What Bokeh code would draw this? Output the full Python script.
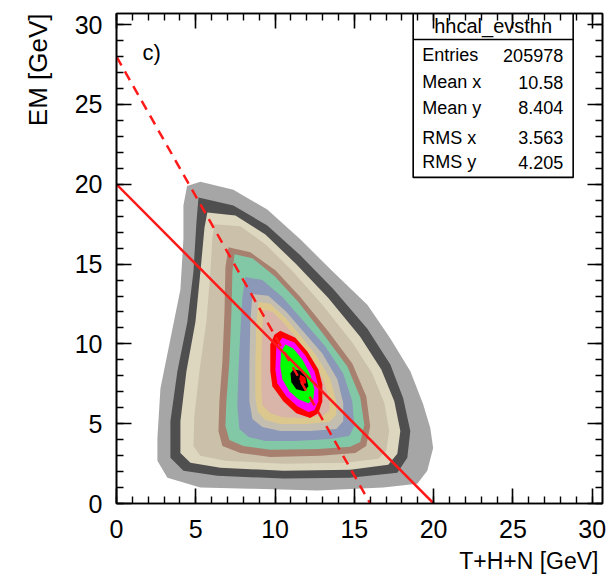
from bokeh.plotting import figure
from bokeh.models import Range1d, SingleIntervalTicker, LinearAxis, CustomJSTickFormatter, Title
from bokeh.core.properties import value
from bokeh.embed import file_html
from bokeh.resources import INLINE

FONT = "Liberation Sans"

# Filled contour bands of hhcal_evsthn, outermost first: (x, y) vertices in GeV
band_01 = [(4.45, 19.9), (5.29, 20.16), (7.37, 19.66), (9.51, 18.42), (11.59, 16.55),
           (13.67, 14.5), (15.82, 12.45), (17.27, 10.33), (18.53, 8.28), (19.34, 6.22),
           (19.79, 4.73), (19.97, 3.48), (19.6, 2.05), (18.97, 1.24), (16.82, 1.0),
           (12.67, 0.81), (8.44, 0.93), (5.29, 1.0), (3.21, 1.62), (2.58, 2.68),
           (2.58, 4.1), (2.77, 7.2), (3.4, 10.3), (4.03, 13.4), (4.22, 16.55), (4.22, 18.67)]
band_02 = [(5.17, 19.17), (7.37, 18.67), (9.51, 17.42), (11.59, 15.55), (13.67, 13.44),
           (15.82, 10.95), (17.27, 8.71), (18.08, 6.6), (18.53, 4.54), (18.34, 2.86),
           (17.71, 1.93), (14.74, 1.62), (10.52, 1.56), (6.36, 1.74), (4.22, 2.05),
           (3.4, 2.86), (3.4, 5.16), (3.84, 8.28), (4.47, 11.39), (4.85, 14.5), (5.04, 17.61)]
band_03 = [(5.73, 18.23), (7.5, 18.05), (9.39, 16.86), (11.34, 14.99), (13.36, 12.88),
           (15.37, 10.45), (16.7, 8.4), (17.52, 6.41), (17.9, 4.54), (17.71, 3.11),
           (17.14, 2.43), (14.74, 2.12), (10.52, 2.05), (6.55, 2.24), (4.66, 2.55),
           (4.03, 3.17), (4.03, 5.16), (4.41, 8.28), (4.98, 11.39), (5.29, 14.5), (5.55, 17.3)]
band_04 = [(6.18, 17.49), (7.81, 17.37), (9.39, 16.24), (11.15, 14.5), (12.98, 12.45),
           (14.87, 10.08), (16.13, 8.15), (16.89, 6.29), (17.2, 4.54), (17.01, 3.3),
           (16.51, 2.8), (14.43, 2.55), (10.52, 2.49), (6.87, 2.68), (5.29, 2.99),
           (4.85, 3.61), (4.91, 5.48), (5.23, 8.28), (5.67, 11.39), (5.92, 14.5), (6.05, 16.68)]
band_05 = [(7.06, 16.05), (8.44, 15.74), (10.02, 14.62), (11.59, 12.94), (13.36, 10.77),
           (14.87, 8.77), (15.75, 6.72), (16.0, 4.85), (15.75, 3.61), (15.06, 3.17),
           (12.85, 2.99), (9.7, 2.92), (7.81, 3.17), (6.68, 3.61), (6.43, 4.54),
           (6.49, 6.41), (6.68, 8.9), (6.81, 12.01), (6.87, 14.81)]
band_06 = [(7.44, 15.62), (8.57, 15.37), (9.96, 14.25), (11.47, 12.63), (13.11, 10.52),
           (14.56, 8.59), (15.37, 6.66), (15.63, 4.92), (15.37, 3.86), (14.74, 3.55),
           (12.73, 3.42), (9.7, 3.36), (8.0, 3.61), (7.12, 3.98), (6.87, 4.85),
           (6.93, 6.41), (7.12, 8.9), (7.25, 12.01), (7.31, 14.5)]
band_07 = [(8.13, 14.19), (9.2, 14.0), (10.46, 12.94), (11.72, 11.51), (13.17, 9.83),
           (14.3, 8.15), (14.87, 6.41), (15.0, 4.85), (14.68, 4.23), (13.48, 4.04),
           (11.28, 3.92), (9.39, 3.92), (8.32, 4.17), (7.75, 4.67), (7.62, 6.1),
           (7.69, 8.28), (7.81, 10.77), (7.94, 12.94)]
band_08 = [(8.57, 13.13), (9.58, 13.01), (10.71, 12.01), (11.78, 10.77), (12.98, 9.4),
           (13.93, 7.78), (14.3, 6.29), (14.3, 5.16), (13.86, 4.67), (12.22, 4.54),
           (10.33, 4.54), (9.2, 4.79), (8.57, 5.29), (8.38, 6.41), (8.38, 8.59), (8.44, 11.39)]
band_09 = [(8.95, 12.63), (9.7, 12.51), (10.65, 11.64), (11.59, 10.52), (12.6, 9.27),
           (13.48, 7.78), (13.86, 6.41), (13.86, 5.54), (13.42, 5.1), (11.91, 4.98),
           (10.33, 4.98), (9.39, 5.23), (8.88, 5.79), (8.76, 6.72), (8.76, 8.9), (8.82, 11.39)]
band_10 = [(9.26, 12.13), (9.83, 12.01), (10.59, 11.26), (11.41, 10.27), (12.29, 9.15),
           (13.04, 7.78), (13.42, 6.53), (13.42, 5.79), (12.98, 5.48), (11.59, 5.35),
           (10.46, 5.41), (9.7, 5.66), (9.2, 6.16), (9.14, 7.03), (9.14, 8.9), (9.2, 11.08)]
band_11 = [(10.33, 10.83), (11.28, 10.39), (12.04, 9.52), (12.73, 8.4), (12.98, 7.47),
           (12.98, 6.41), (12.73, 5.66), (12.22, 5.35), (11.34, 5.66), (10.52, 6.41),
           (9.83, 7.34), (9.7, 8.28), (9.7, 9.96), (9.96, 10.58)]
band_12 = [(10.46, 10.39), (11.22, 10.08), (11.91, 9.27), (12.48, 8.28), (12.73, 7.34),
           (12.73, 6.41), (12.48, 5.85), (12.1, 5.73), (11.41, 6.1), (10.71, 6.72),
           (10.14, 7.53), (10.02, 8.4), (10.08, 9.83)]
band_13 = [(10.65, 9.96), (11.15, 9.71), (11.72, 9.02), (12.22, 8.09), (12.48, 7.16),
           (12.41, 6.53), (12.1, 6.28), (11.47, 6.53), (10.9, 7.03), (10.46, 7.78),
           (10.33, 8.59), (10.39, 9.52)]
band_14 = [(11.15, 8.4), (11.59, 8.34), (11.97, 7.9), (12.1, 7.34), (11.84, 7.03),
           (11.34, 7.16), (11.03, 7.59), (10.97, 8.15)]
band_15 = [(11.59, 8.09), (11.91, 7.9), (11.97, 7.53), (11.66, 7.47), (11.53, 7.78)]

bands = [band_01, band_02, band_03, band_04, band_05, band_06, band_07, band_08,
         band_09, band_10, band_11, band_12, band_13, band_14, band_15]
band_colors = ["#a6a6a6", "#4f4f4f", "#ddd7bf", "#cbc0aa", "#a7806f", "#82c8a7",
               "#8c98b8", "#c3beb0", "#dcc88e", "#d8b5a8", "#ff0000", "#ff00ff",
               "#00ff00", "#000000", "#ff0000"]

# Reference lines: EM + (T+H+N) = 20 GeV and the dashed cut
solid_x = [0, 20]
solid_y = [20, 0]
dashed_x = [0, 16]
dashed_y = [28, 0]

# Statistics box
stats_title = "hhcal_evsthn"
stats_names = ["Entries", "Mean x", "Mean y", "RMS x", "RMS y"]
stats_values = ["205978", "10.58", "8.404", "3.563", "4.205"]

p = figure(width=611, height=587, output_backend="svg", toolbar_location=None,
           x_range=Range1d(0, 30.65), y_range=Range1d(0, 30.7),
           min_border_left=116, min_border_right=9, min_border_top=13,
           min_border_bottom=84)
p.background_fill_color = "white"
p.border_fill_color = "white"
p.outline_line_color = "black"
p.outline_line_width = 1.6
p.xgrid.visible = False
p.ygrid.visible = False

p.patches(xs=[[v[0] for v in b] for b in bands],
          ys=[[v[1] for v in b] for b in bands],
          fill_color=band_colors, line_color=None)

p.line(solid_x, solid_y, line_color="#ff1a1a", line_width=2.5)
p.line(dashed_x, dashed_y, line_color="#ff1a1a", line_width=2.5, line_dash="10 7")

# stats box frame
box_l, box_r, box_t, box_b, box_sep = 18.71, 28.8, 30.7, 20.43, 29.07
p.quad(left=[box_l], right=[box_r], top=[box_t], bottom=[box_b],
       fill_color="white", line_color="black", line_width=1.6)
p.segment(x0=[box_l], y0=[box_sep], x1=[box_r], y1=[box_sep], line_color="black",
          line_width=1.6)
p.text(x=[(box_l + box_r) / 2], y=[29.89], text=[stats_title], text_font=value(FONT),
       text_font_size=value("20px"), text_align="center", text_baseline="middle",
       text_color="black")
row_y = [28.07, 26.38, 24.81, 22.93, 21.37]
p.text(x=[19.28] * 5, y=row_y, text=stats_names, text_font=value(FONT),
       text_font_size=value("18px"), text_align="left", text_baseline="middle",
       text_color="black")
p.text(x=[28.17] * 5, y=row_y, text=stats_values, text_font=value(FONT),
       text_font_size=value("18px"), text_align="right", text_baseline="middle",
       text_color="black")

p.text(x=[1.64], y=[28.26], text=["c)"], text_font=value(FONT),
       text_font_size=value("22px"), text_align="left", text_baseline="middle",
       text_color="black")


def style_axis(ax, labels=True):
    ax.ticker = SingleIntervalTicker(interval=5, num_minor_ticks=5)
    ax.axis_line_color = "black"
    ax.axis_line_width = 1.6
    ax.major_tick_in = 15
    ax.major_tick_out = 0
    ax.minor_tick_in = 7
    ax.minor_tick_out = 0
    ax.major_tick_line_width = 1.6
    ax.minor_tick_line_width = 1.4
    ax.major_tick_line_color = "black"
    ax.minor_tick_line_color = "black"
    if labels:
        ax.major_label_text_font = FONT
        ax.major_label_text_font_size = "25px"
        ax.major_label_text_color = "black"
    else:
        ax.formatter = CustomJSTickFormatter(code="return ''")
        ax.major_label_standoff = 0


style_axis(p.xaxis[0])
style_axis(p.yaxis[0])
p.xaxis[0].major_label_standoff = 16
p.yaxis[0].major_label_standoff = 14

top_axis = LinearAxis()
right_axis = LinearAxis()
style_axis(top_axis, labels=False)
style_axis(right_axis, labels=False)
p.add_layout(top_axis, "above")
p.add_layout(right_axis, "right")

# axis titles, flush with the far end of each axis
p.add_layout(Title(text="T+H+N [GeV]", align="right", offset=4, standoff=10,
                   text_font=FONT, text_font_size="23px", text_font_style="normal",
                   text_color="black"), "below")
p.add_layout(Title(text="EM [GeV]", align="right", offset=0, standoff=38,
                   text_font=FONT, text_font_size="26px", text_font_style="normal",
                   text_color="black"), "left")

open("out.html", "w").write(file_html(p, INLINE))
